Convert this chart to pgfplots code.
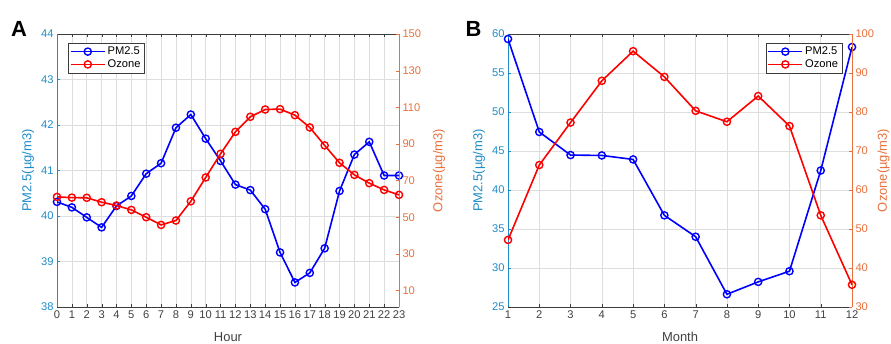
\documentclass[border=0pt]{standalone}
\usepackage{fontspec}
\setmainfont{Liberation Sans}
\usepackage{pgfplots}
\pgfplotsset{compat=1.18}
\definecolor{pmaxis}{RGB}{30,140,200}
\definecolor{ozaxis}{RGB}{232,112,60}
\definecolor{boxgray}{RGB}{60,60,60}
\definecolor{pmline}{RGB}{0,0,255}
\definecolor{ozline}{RGB}{255,0,0}

\pgfplotstableread{
x y
0 40.31
1 40.19
2 39.97
3 39.75
4 40.22
5 40.44
6 40.93
7 41.16
8 41.94
9 42.23
10 41.70
11 41.21
12 40.69
13 40.57
14 40.15
15 39.20
16 38.54
17 38.75
18 39.29
19 40.55
20 41.35
21 41.63
22 40.89
23 40.89
}\pmhour
\pgfplotstableread{
x y
0 61.1
1 60.7
2 60.6
3 58.2
4 56.4
5 54.0
6 50.0
7 45.8
8 48.2
9 58.7
10 71.7
11 84.6
12 96.6
13 104.8
14 108.8
15 109.0
16 105.7
17 99.0
18 89.2
19 79.7
20 73.1
21 68.6
22 64.9
23 62.2
}\ozhour
\pgfplotstableread{
x y
1 59.36
2 47.44
3 44.48
4 44.43
5 43.92
6 36.75
7 34.01
8 26.63
9 28.22
10 29.59
11 42.50
12 58.33
}\pmmonth
\pgfplotstableread{
x y
1 47.2
2 66.4
3 77.3
4 88.0
5 95.6
6 89.0
7 80.3
8 77.5
9 84.1
10 76.4
11 53.5
12 35.7
}\ozmonth

\pgfplotsset{
  base/.style={
    scale only axis, height=273bp,
    /pgf/number format/assume math mode=true,
    tick label style={font=\fontsize{11.2}{13}\selectfont},
    label style={font=\fontsize{13}{15}\selectfont},
    major tick length=3bp, tick align=inside,
    anchor=south west,
  },
  leftax/.style={
    base,
    axis y line*=left,
    y axis line style={draw=pmaxis, line width=0.9pt},
    x axis line style={draw=boxgray, line width=0.9pt},
    ytick style={draw=pmaxis},
    xtick style={draw=boxgray},
    yticklabel style={text=pmaxis},
    xticklabel style={text=black!75},
    xlabel style={text=black!75, at={(axis description cs:0.5,0)}, anchor=center, yshift=-30bp},
    ylabel style={text=pmaxis, at={([xshift=-29bp]axis description cs:0,0.5)}, anchor=center},
    grid=major, grid style={black!13, line width=0.6pt},
  },
  rightax/.style={
    base,
    axis y line*=right,
    hide x axis,
    y axis line style={draw=ozaxis, line width=0.9pt},
    ytick style={draw=ozaxis},
    yticklabel style={text=ozaxis},
    ylabel style={text=ozaxis, anchor=center},
    legend style={font=\fontsize{11.2}{13}\selectfont, draw=boxgray, fill=white,
      row sep=-0.5bp, inner sep=1.8bp},
    legend cell align=left,
    legend image code/.code={\draw[mark repeat=2,mark phase=2,#1,line width=1.6bp] plot coordinates {(0bp,0bp) (17bp,0bp) (34bp,0bp)};},
  },
  pmstyle/.style={pmline, line width=1.6bp, mark=o, mark size=3.6bp, mark options={solid, line width=1.4bp}},
  ozstyle/.style={ozline, line width=1.6bp, mark=o, mark size=3.6bp, mark options={solid, line width=1.4bp}},
}

\begin{document}
\begin{tikzpicture}[x=1bp,y=1bp]
\useasboundingbox (0,0) rectangle (891,343);
\clip (0,0) rectangle (891,343);

% Panel A
\begin{axis}[leftax, at={(57bp,36bp)}, width=342bp,
  xmin=0, xmax=23, ymin=38, ymax=44,
  xtick={0,1,...,23}, ytick={38,39,...,44},
  xlabel={Hour}, ylabel={PM2.5(µg/m3)}]
\addplot[pmstyle] table[x=x,y=y] {\pmhour};
\end{axis}
\begin{axis}[rightax, at={(57bp,36bp)}, width=342bp,
  xmin=0, xmax=23, ymin=1, ymax=150,
  ytick={10,30,...,150},
  ylabel={Ozone(µg/m3)},
  ylabel style={at={([xshift=40bp]axis description cs:1,0.5)}},
  legend style={at={(0,1)}, anchor=north west, xshift=11bp, yshift=-9bp}]
\addlegendimage{pmstyle}
\addlegendentry{PM2.5}
\addplot[ozstyle] table[x=x,y=y] {\ozhour};
\addlegendentry{Ozone}
\end{axis}

% Panel B
\begin{axis}[leftax, at={(508bp,36bp)}, width=344bp,
  xmin=1, xmax=12, ymin=25, ymax=60,
  xtick={1,2,...,12}, ytick={25,30,...,60},
  xlabel={Month}, ylabel={PM2.5(µg/m3)}]
\addplot[pmstyle] table[x=x,y=y] {\pmmonth};
\end{axis}
\begin{axis}[rightax, at={(508bp,36bp)}, width=344bp,
  xmin=1, xmax=12, ymin=30, ymax=100,
  ytick={30,40,...,100},
  ylabel={Ozone(µg/m3)},
  ylabel style={at={([xshift=31.5bp]axis description cs:1,0.5)}},
  legend style={at={(1,1)}, anchor=north east, xshift=-10bp, yshift=-9bp}]
\addlegendimage{pmstyle}
\addlegendentry{PM2.5}
\addplot[ozstyle] table[x=x,y=y] {\ozmonth};
\addlegendentry{Ozone}
\end{axis}

\node[font=\bfseries\fontsize{22}{24}\selectfont, anchor=center] at (19,314) {A};
\node[font=\bfseries\fontsize{22}{24}\selectfont, anchor=center] at (473.5,314.5) {B};
\end{tikzpicture}
\end{document}
